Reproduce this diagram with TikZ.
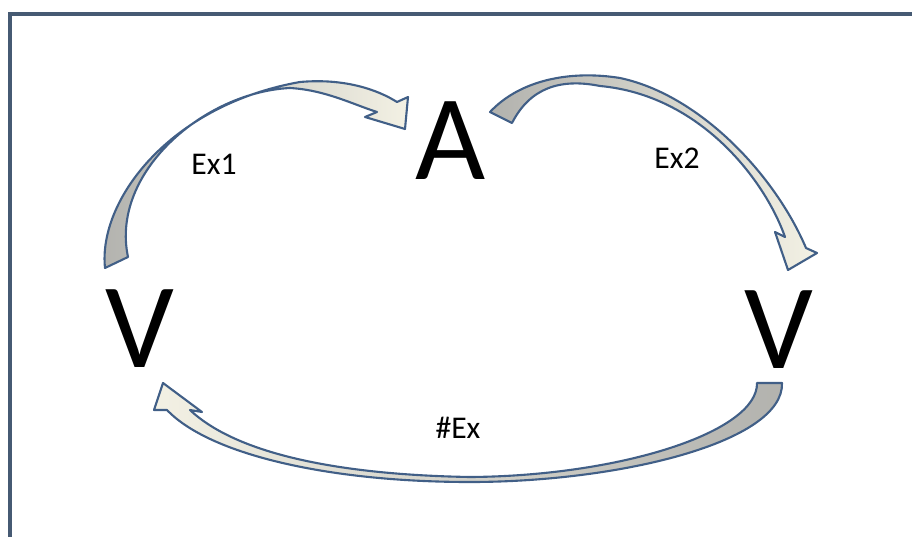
\documentclass[tikz,border=0pt]{standalone}
\usepackage{fontspec}
\setmainfont{Carlito}
\definecolor{framecol}{RGB}{70,90,115}
\definecolor{arrowline}{RGB}{65,95,135}
\definecolor{arrowgray}{RGB}{178,178,174}
\definecolor{arrowcream}{RGB}{243,241,228}
\begin{document}
\begin{tikzpicture}[x=0.02cm,y=-0.02cm,
	big/.style={inner sep=0pt, font=\fontsize{69}{69}\selectfont},
	lbl/.style={inner sep=0pt, font=\fontsize{18}{18}\selectfont},
	band/.style={draw=arrowline, line width=1.2pt, line join=round}]
	\useasboundingbox (0,0) rectangle (912,537);
	\clip (0,0) rectangle (912,537);
	\draw[framecol, line width=2.2pt] (10,14) rectangle (960,600);
	\node (A)	at (451,141)	[big]	{A};
	\node (V1)	at (140,329)	[big]	{V};
	\node (V2)	at (779,330)	[big]	{V};
	\node (ex1)	at (214,164)	[lbl]	{Ex1};
	\node (ex2)	at (677,158)	[lbl]	{Ex2};
	\node (nex)	at (458,428)	[lbl]	{\#Ex};
	\draw[band, left color=arrowgray, right color=arrowcream]
		(105,268) .. controls (98,200) and (170,105) .. (300,82)
		.. controls (345,78) and (378,90) .. (397,102)
		-- (408,97) -- (405,129) -- (365,117) -- (377,112)
		.. controls (352,104) and (325,90) .. (290,88)
		.. controls (205,92) and (110,172) .. (128,257) -- cycle;
	\draw[band, left color=arrowgray, right color=arrowcream]
		(490,112) .. controls (520,80) and (570,70) .. (620,78)
		.. controls (700,95) and (775,175) .. (806,248)
		-- (817,253) -- (788,270) -- (775,232) -- (785,237)
		.. controls (765,180) and (700,95) .. (600,86)
		.. controls (560,78) and (530,88) .. (512,123) -- cycle;
	\draw[band, left color=arrowcream, right color=arrowgray]
		(782,383) .. controls (784,442) and (620,482) .. (470,482)
		.. controls (330,482) and (210,455) .. (167,410)
		-- (154,410) -- (163,383) -- (202,412) -- (190,410)
		.. controls (240,457) and (350,475) .. (470,477)
		.. controls (620,476) and (758,432) .. (757,383) -- cycle;
\end{tikzpicture}
\end{document}
